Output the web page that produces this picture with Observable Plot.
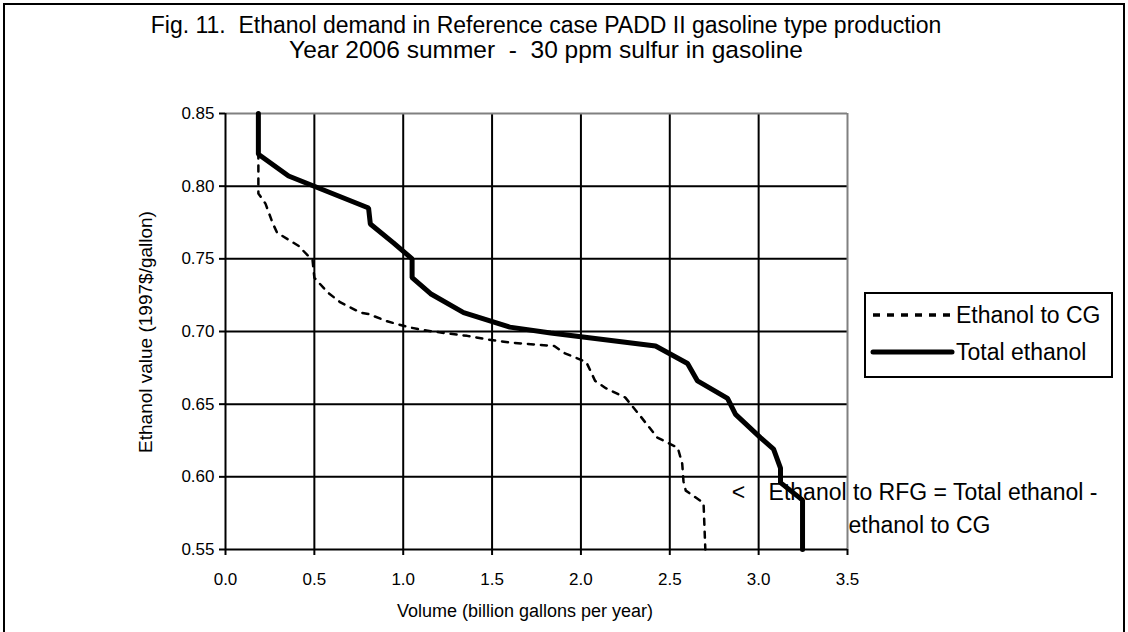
<!DOCTYPE html>
<html>
<head>
<meta charset="utf-8">
<script src="https://cdn.jsdelivr.net/npm/d3@7"></script>
<script src="https://cdn.jsdelivr.net/npm/@observablehq/plot@0.6"></script>
<style>
  body { margin: 0; background: #fff; }
  #wrap { position: relative; width: 1128px; height: 632px; overflow: hidden; background: #fff;
          font-family: Arial, "Liberation Sans", sans-serif; color: #000; }
  #frame { position: absolute; left: 3px; top: 3px; width: 1122px; height: 700px;
           border: 2px solid #000; box-sizing: border-box; }
  .title { position: absolute; left: 0; width: 1092px; text-align: center; font-size: 23px; white-space: pre; line-height: 1; }
  #chart { position: absolute; left: 0; top: 0; }
  #ylabel { position: absolute; left: 145px; top: 332px; transform: translate(-50%, -50%) rotate(-90deg);
            font-size: 19px; white-space: nowrap; line-height: 1; }
  #xlabel { position: absolute; left: 525px; top: 611px; transform: translate(-50%, -50%);
            font-size: 18px; white-space: nowrap; line-height: 1; }
  #legend { position: absolute; left: 864px; top: 292px; width: 249px; height: 86px;
            border: 2px solid #000; box-sizing: border-box; background: #fff; }
  .lrow { position: absolute; left: 0; height: 26px; display: flex; align-items: center; font-size: 23px; white-space: nowrap; }
</style>
</head>
<body>
<div id="wrap">
  <div id="frame"></div>
  <div class="title" id="t1" style="top:14px">Fig. 11.  Ethanol demand in Reference case PADD II gasoline type production</div>
  <div class="title" id="t2" style="top:38px;font-size:24.5px">Year 2006 summer  -  30 ppm sulfur in gasoline</div>
  <div id="chart"></div>
  <div id="ylabel">Ethanol value (1997$/gallon)</div>
  <div id="xlabel">Volume (billion gallons per year)</div>
  <div id="legend"></div>
</div>
<script>
// ---- data ----
const cgVolume = [0.185, 0.185, 0.225, 0.264, 0.29, 0.41, 0.49, 0.50, 0.574, 0.647, 0.76, 0.805, 0.91, 1.03, 1.11, 1.23, 1.36, 1.475, 1.60, 1.85, 1.91, 2.03, 2.08, 2.14, 2.25, 2.32, 2.43, 2.545, 2.57, 2.577, 2.59, 2.69, 2.70];
const cgValue  = [0.850, 0.795, 0.788, 0.775, 0.768, 0.759, 0.749, 0.737, 0.727, 0.720, 0.713, 0.712, 0.707, 0.703, 0.701, 0.699, 0.697, 0.6945, 0.6924, 0.690, 0.685, 0.679, 0.666, 0.661, 0.6545, 0.644, 0.627, 0.620, 0.609, 0.597, 0.5905, 0.582, 0.550];

const totalVolume = [0.185, 0.185, 0.355, 0.805, 0.815, 0.945, 1.05, 1.05, 1.154, 1.34, 1.60, 1.83, 2.42, 2.60, 2.656, 2.825, 2.87, 3.01, 3.084, 3.123, 3.123, 3.247, 3.247];
const totalValue  = [0.850, 0.822, 0.807, 0.785, 0.774, 0.761, 0.750, 0.737, 0.726, 0.713, 0.703, 0.699, 0.690, 0.678, 0.666, 0.654, 0.643, 0.627, 0.619, 0.606, 0.596, 0.584, 0.550];

const seriesNames = ["Ethanol to CG", "Total ethanol"];
const xTicks = [0.0, 0.5, 1.0, 1.5, 2.0, 2.5, 3.0, 3.5];
const yTicks = [0.55, 0.60, 0.65, 0.70, 0.75, 0.80, 0.85];

const annotations = [
  {x: 2.887, y: 0.589, text: "<"},
  {x: 3.056, y: 0.589, text: "Ethanol to RFG = Total ethanol -"},
  {x: 3.506, y: 0.5665, text: "ethanol to CG"}
];

// ---- build tables ----
const cg = cgVolume.map((v, i) => ({x: v, y: cgValue[i]}));
const total = totalVolume.map((v, i) => ({x: v, y: totalValue[i]}));

const chart = Plot.plot({
  width: 1128,
  height: 632,
  marginLeft: 225,
  marginRight: 281,
  marginTop: 113,
  marginBottom: 83,
  style: {fontFamily: "Arial, 'Liberation Sans', sans-serif", fontSize: "17px", color: "#000", background: "transparent", overflow: "visible"},
  x: {domain: [0, 3.5]},
  y: {domain: [0.55, 0.85]},
  marks: [
    // annotation text (below lines)
    Plot.text(annotations.slice(0, 1), {x: "x", y: "y", text: "text", textAnchor: "middle", fontSize: 23, fill: "#000"}),
    Plot.text(annotations.slice(1), {x: "x", y: "y", text: "text", textAnchor: "start", fontSize: 23, fill: "#000"}),
    // grid
    Plot.ruleX(xTicks.slice(1, -1), {stroke: "#000", strokeWidth: 2}),
    Plot.ruleY(yTicks.slice(1, -1), {stroke: "#000", strokeWidth: 2}),
    // frame: top & right grey
    Plot.ruleY([0.85], {stroke: "#808080", strokeWidth: 2}),
    Plot.ruleX([3.5], {stroke: "#808080", strokeWidth: 2}),
    // axes
    Plot.axisX({ticks: xTicks, tickSize: 6, tickPadding: 17, tickFormat: d => d.toFixed(1), label: null, strokeWidth: 2, fontSize: 17}),
    Plot.axisY({ticks: yTicks, tickSize: 6, tickPadding: 5, tickFormat: d => d.toFixed(2), label: null, strokeWidth: 2, fontSize: 17}),
    Plot.ruleX([0], {stroke: "#000", strokeWidth: 2}),
    Plot.ruleY([0.55], {stroke: "#000", strokeWidth: 2}),
    // series
    Plot.line(cg, {x: "x", y: "y", stroke: "#000", strokeWidth: 2.5, strokeDasharray: "6,7"}),
    Plot.line(total, {x: "x", y: "y", stroke: "#000", strokeWidth: 5, strokeLinejoin: "miter"})
  ]
});
document.getElementById("chart").appendChild(chart);

// ---- legend ----
const legend = document.getElementById("legend");
const styles = [{dash: "7,7", w: 3.5, cap: "butt"}, {dash: null, w: 5, cap: "round"}];
seriesNames.forEach((name, i) => {
  const row = document.createElement("div");
  row.className = "lrow";
  row.style.top = (i === 0 ? 8 : 45) + "px";
  const s = styles[i];
  row.innerHTML = `<svg width="90" height="26" style="display:block"><line x1="7" x2="86" y1="13" y2="13" stroke="#000" stroke-width="${s.w}" stroke-linecap="${s.cap}" ${s.dash ? `stroke-dasharray="${s.dash}"` : ""}/></svg><span>${name}</span>`;
  legend.appendChild(row);
});
</script>
</body>
</html>
